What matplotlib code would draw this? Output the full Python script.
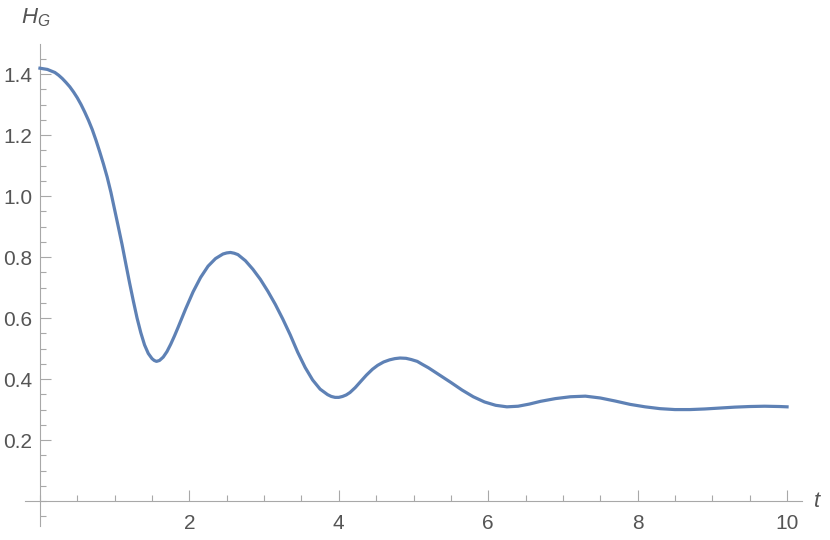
import numpy as np
import matplotlib
matplotlib.use("Agg")
import matplotlib.pyplot as plt
from matplotlib.ticker import MultipleLocator, FixedLocator

# values
t = [0.0, 0.1, 0.2, 0.25, 0.3, 0.35, 0.4, 0.45, 0.5, 0.55, 0.6, 0.65, 0.7, 0.75,
     0.8, 0.85, 0.9, 0.95,
     1.0, 1.05, 1.1, 1.15, 1.2, 1.25, 1.3, 1.35, 1.4, 1.45,
     1.5, 1.53, 1.56, 1.6, 1.65, 1.7, 1.75, 1.8, 1.85,
     1.95, 2.05, 2.15, 2.25, 2.35, 2.45, 2.5, 2.55, 2.6, 2.65, 2.75, 2.85,
     2.95, 3.05, 3.15, 3.25, 3.35, 3.45, 3.55, 3.65, 3.75, 3.85,
     3.9, 3.95, 4.0, 4.05, 4.1, 4.15, 4.22, 4.3, 4.37, 4.45, 4.52, 4.6, 4.68,
     4.75, 4.82, 4.9, 4.97, 5.05, 5.12, 5.2,
     5.35, 5.5, 5.65, 5.8, 5.95, 6.1, 6.25, 6.4, 6.55, 6.7,
     6.9, 7.1, 7.3, 7.5, 7.7, 7.9, 8.1, 8.3, 8.5, 8.7,
     8.9, 9.1, 9.3, 9.5, 9.7, 9.9, 10.0]
h_g = [1.419, 1.415, 1.405, 1.396, 1.385, 1.372, 1.358, 1.341, 1.322, 1.300, 1.275, 1.248, 1.218, 1.183,
       1.145, 1.105, 1.062, 1.012,
       0.955, 0.898, 0.840, 0.777, 0.715, 0.656, 0.600, 0.552, 0.512, 0.484,
       0.467, 0.461, 0.458, 0.461, 0.472, 0.490, 0.514, 0.541, 0.570,
       0.630, 0.686, 0.733, 0.770, 0.795, 0.810, 0.8135, 0.815, 0.8125, 0.808, 0.788, 0.760,
       0.727, 0.688, 0.645, 0.597, 0.545, 0.488, 0.438, 0.397, 0.367, 0.349,
       0.343, 0.340, 0.340, 0.343, 0.348, 0.356, 0.372, 0.394, 0.413, 0.432, 0.445, 0.456, 0.463,
       0.467, 0.469, 0.468, 0.464, 0.458, 0.448, 0.437,
       0.413, 0.389, 0.364, 0.342, 0.325, 0.314, 0.309, 0.311, 0.318, 0.327,
       0.336, 0.342, 0.344, 0.338, 0.328, 0.317, 0.309, 0.303, 0.300, 0.300,
       0.302, 0.305, 0.308, 0.310, 0.311, 0.310, 0.309]

x_major = [2, 4, 6, 8, 10]
y_major = [0.2, 0.4, 0.6, 0.8, 1.0, 1.2, 1.4]

axis_col = "#a8a8a8"
label_col = "#555555"

plt.rcParams["font.family"] = ["Liberation Sans", "DejaVu Sans"]
plt.rcParams["mathtext.fontset"] = "custom"
plt.rcParams["mathtext.it"] = "Liberation Sans:italic"
plt.rcParams["mathtext.rm"] = "Liberation Sans"

fig = plt.figure(figsize=(8.3, 5.4), dpi=100)
ax = fig.add_axes([25 / 830, (540 - 525.5) / 540, 777 / 830, 482 / 540])

ax.plot(t, h_g, color="#5E81B5", lw=2.3, solid_joinstyle="round", zorder=3)

ax.set_xlim(-0.2, 10.2)
ax.set_ylim(-0.08, 1.5)

for s in ["top", "right"]:
    ax.spines[s].set_visible(False)
for s in ["left", "bottom"]:
    ax.spines[s].set_position(("data", 0))
    ax.spines[s].set_color(axis_col)
    ax.spines[s].set_linewidth(0.8)

ax.xaxis.set_major_locator(FixedLocator(x_major))
ax.xaxis.set_minor_locator(MultipleLocator(0.5))
ax.yaxis.set_major_locator(FixedLocator(y_major))
ax.yaxis.set_minor_locator(FixedLocator(np.arange(-0.05, 1.46, 0.05)))

ax.set_xticklabels([str(v) for v in x_major])
ax.set_yticklabels([f"{v:.1f}" for v in y_major])

ax.tick_params(axis="x", which="both", direction="in", colors=axis_col,
               labelcolor=label_col, labelsize=15, pad=9)
ax.tick_params(axis="y", which="both", direction="in", colors=axis_col,
               labelcolor=label_col, labelsize=15, pad=5.5)
ax.tick_params(which="major", length=8, width=0.8)
ax.tick_params(which="minor", length=4.5, width=0.8)

fig.text(21 / 830, 1 - 23 / 540, r"$H_G$", fontsize=16, color=label_col)
fig.text(813 / 830, 1 - 507 / 540, r"$t$", fontsize=16, color=label_col)

fig.savefig("out.png", dpi=100)
